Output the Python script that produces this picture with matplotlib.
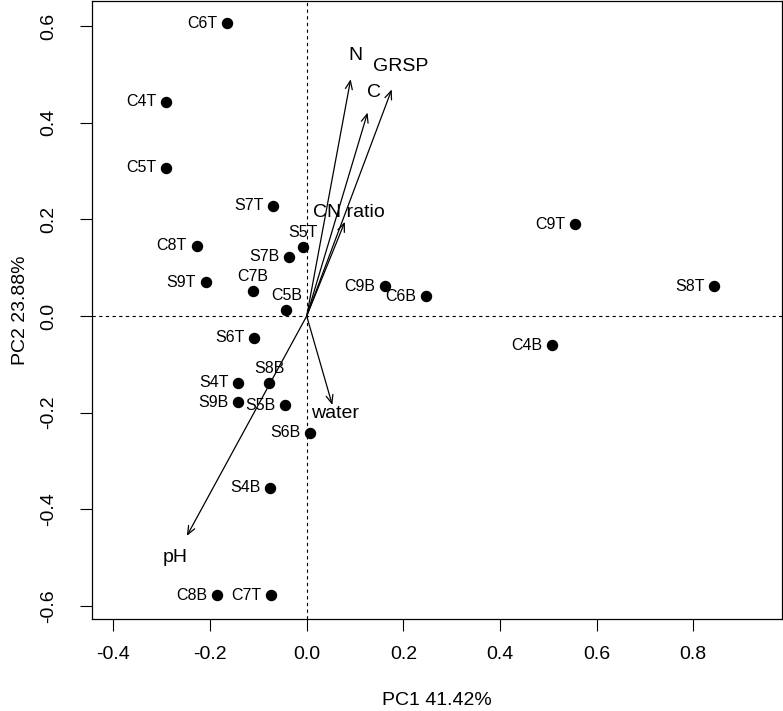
import matplotlib
matplotlib.use("Agg")
import matplotlib.pyplot as plt

plt.rcParams['font.family'] = ['Liberation Sans', 'DejaVu Sans']
plt.rcParams['axes.unicode_minus'] = False

# sample scores (PC1, PC2)
samples = ["C6T", "C4T", "C5T", "S7T", "C8T", "S5T", "S7B", "S9T", "C7B", "C5B",
           "C9T", "C9B", "C6B", "S8T", "C4B", "S6T", "S4T", "S8B", "S9B", "S5B",
           "S6B", "S4B", "C8B", "C7T"]
pc1 = [-0.164, -0.291, -0.292, -0.069, -0.228, -0.008, -0.037, -0.209, -0.111, -0.042,
       0.555, 0.162, 0.247, 0.843, 0.508, -0.109, -0.142, -0.077, -0.142, -0.045,
       0.007, -0.076, -0.186, -0.074]
pc2 = [0.606, 0.444, 0.307, 0.228, 0.145, 0.143, 0.123, 0.070, 0.052, 0.012,
       0.190, 0.062, 0.041, 0.062, -0.060, -0.045, -0.138, -0.138, -0.178, -0.185,
       -0.242, -0.355, -0.578, -0.578]
# labels drawn above the point instead of to the left
above = ["S5T", "C7B", "C5B", "S8B"]

# variable loadings
variables = ["N", "C", "GRSP", "CN ratio", "water", "pH"]
load1 = [0.091, 0.126, 0.176, 0.079, 0.053, -0.248]
load2 = [0.490, 0.421, 0.469, 0.195, -0.184, -0.455]

fig = plt.figure(figsize=(7.83, 7.11), dpi=100)
ax = fig.add_axes([0.1171, 0.1294, 0.8812, 0.8685])

ax.axhline(0, color='black', lw=0.8, dashes=(3, 3))
ax.axvline(0, color='black', lw=0.8, dashes=(3, 3))

ax.scatter(pc1, pc2, s=52, color='black', zorder=3)
for name, x, y in zip(samples, pc1, pc2):
    if name in above:
        ax.annotate(name, (x, y), xytext=(0, 10.5), textcoords='offset points',
                    ha='center', va='center', fontsize=11.5)
    else:
        ax.annotate(name, (x, y), xytext=(-7, 0), textcoords='offset points',
                    ha='right', va='center', fontsize=11.5)

for name, x, y in zip(variables, load1, load2):
    ax.annotate("", xy=(x, y), xytext=(0, 0),
                arrowprops=dict(arrowstyle='->,head_length=0.6,head_width=0.25',
                                color='black', lw=0.9, shrinkA=0, shrinkB=0))
    ax.text(x * 1.1, y * 1.1, name, ha='center', va='center', fontsize=14)

ax.set_xlim(-0.445, 0.983)
ax.set_ylim(-0.627, 0.651)
ax.set_xticks([-0.4, -0.2, 0.0, 0.2, 0.4, 0.6, 0.8])
ax.set_yticks([-0.6, -0.4, -0.2, 0.0, 0.2, 0.4, 0.6])
ax.set_xticklabels(["-0.4", "-0.2", "0.0", "0.2", "0.4", "0.6", "0.8"])
ax.set_yticklabels(["-0.6", "-0.4", "-0.2", "0.0", "0.2", "0.4", "0.6"],
                   rotation=90, va='center')
ax.tick_params(direction='out', length=8.6, width=0.8, labelsize=14)
ax.tick_params(axis='x', pad=11)
ax.tick_params(axis='y', pad=16)
for sp in ax.spines.values():
    sp.set_linewidth(0.9)

ax.set_xlabel("PC1 41.42%", fontsize=14, labelpad=20.5)
ax.set_ylabel("PC2 23.88%", fontsize=14, labelpad=8)

fig.savefig("out.png", dpi=100)
